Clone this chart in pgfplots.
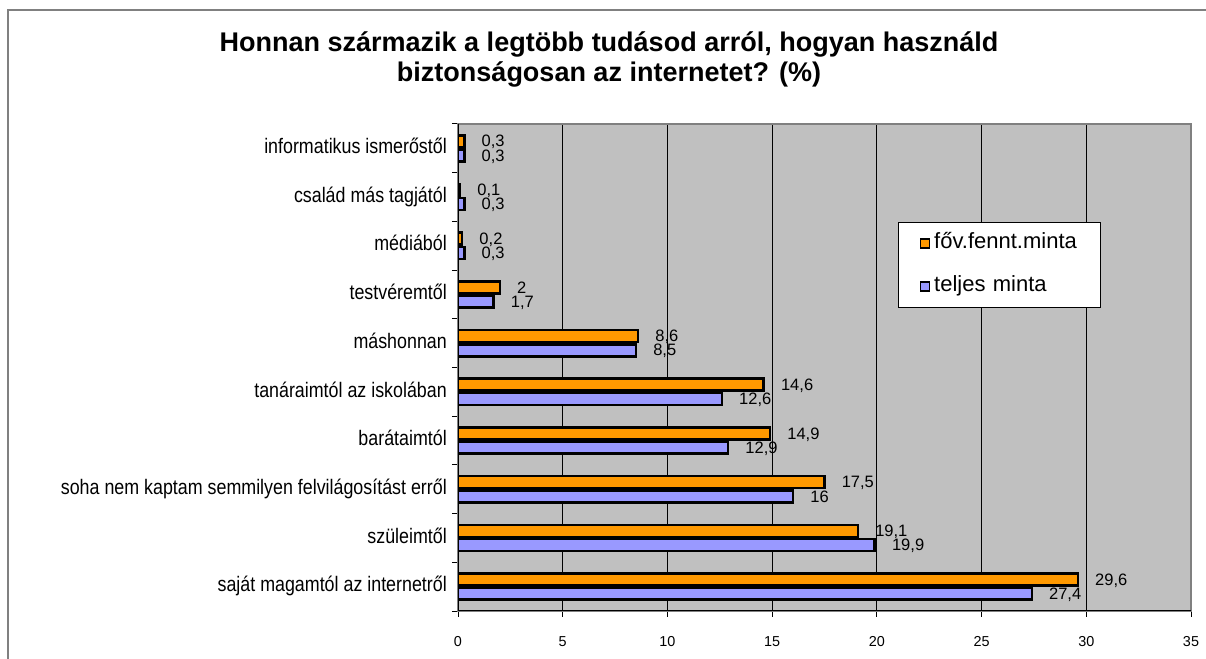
\documentclass[border=0pt]{standalone}
\usepackage{fontspec}
\setmainfont{Liberation Sans}
\newfontfamily\catfont{Liberation Sans}[FakeStretch=0.85]
\usepackage{pgfplots}
\pgfplotsset{compat=1.18}
\definecolor{barorange}{HTML}{FF9900}
\definecolor{barpurple}{HTML}{9999FF}
\definecolor{plotgray}{HTML}{C0C0C0}
\definecolor{framegray}{HTML}{808080}
\begin{document}
\begin{tikzpicture}
\useasboundingbox (0,0) rectangle (1206bp,659bp);
\fill[white] (0,0) rectangle (1206bp,659bp);
\draw[framegray, line width=2.3bp] (8bp,-5bp) -- (8bp,649bp) -- (1215bp,649bp);
\node[anchor=base, inner sep=0pt, font=\fontsize{27bp}{30bp}\selectfont\bfseries] at (609bp,607bp) {Honnan származik a legtöbb tudásod arról, hogyan használd};
\node[anchor=base, inner sep=0pt, font=\fontsize{27bp}{30bp}\selectfont\bfseries] at (609bp,577bp) {biztonságosan az internetet? (\%)};
\begin{axis}[
  at={(458bp,48bp)}, anchor=south west,
  scale only axis, width=733bp, height=487bp,
  xbar, bar width=12bp,
  xmin=0, xmax=35, ymin=0.5, ymax=10.5,
  xtick={0,5,...,35},
  ytick={0.5,1.5,...,10.5},
  y tick label as interval,
  yticklabels={saját magamtól az internetről, szüleimtől, soha nem kaptam semmilyen felvilágosítást erről, barátaimtól, tanáraimtól az iskolában, máshonnan, testvéremtől, médiából, család más tagjától, informatikus ismerőstől},
  xtick pos=bottom, ytick pos=left,
  tick align=outside,
  major tick length=6bp,
  tick style={black, line width=1bp},
  xmajorgrids,
  major grid style={black, line width=0.9bp},
  axis line style={framegray, line width=2bp},
  axis background/.style={fill=plotgray},
  xticklabel style={font=\fontsize{14.4bp}{14.4bp}\selectfont, anchor=north, inner sep=0pt, text height=10.3bp, text depth=0pt, yshift=-19bp},
  yticklabel style={font=\catfont\fontsize{21bp}{21bp}\selectfont, anchor=east, inner sep=0pt, text height=15bp, text depth=4.5bp, xshift=-5bp},
  point meta=x,
  nodes near coords,
  nodes near coords style={anchor=west, inner sep=0pt, xshift=16bp, text height=11.5bp, text depth=0pt, font=\fontsize{16.5bp}{16.5bp}\selectfont},
  legend style={at={(0.6003,0.7988)}, anchor=north west, fill=white, draw=black, line width=1bp, inner xsep=21bp, inner ysep=10.5bp, row sep=22bp, column sep=4bp, nodes={inner sep=0pt, text width=145bp, text height=16bp, text depth=5bp, align=left}, font=\fontsize{22bp}{22bp}\selectfont},
  legend cell align=left,
  legend image code/.code={\draw[#1, line width=1.7bp] (0bp,-4.5bp) rectangle (9bp,4.5bp);},
  /pgf/number format/.cd, use comma, 1000 sep={}, assume math mode=true, /pgfplots/.cd,
]
\addplot[fill=barorange, draw=black, line width=2.6bp, bar shift=7.1bp] coordinates {
(29.6,1) (19.1,2) (17.5,3) (14.9,4) (14.6,5) (8.6,6) (2,7) (0.2,8) (0.1,9) (0.3,10)};
\addlegendentry{főv.fennt.minta}
\addplot[fill=barpurple, draw=black, line width=2.6bp, bar shift=-7.1bp] coordinates {
(27.4,1) (19.9,2) (16,3) (12.9,4) (12.6,5) (8.5,6) (1.7,7) (0.3,8) (0.3,9) (0.3,10)};
\addlegendentry{teljes minta}
\draw[black, line width=2bp] (rel axis cs:0,1) -- (rel axis cs:0,0) -- (rel axis cs:1,0);
\end{axis}
\end{tikzpicture}
\end{document}
